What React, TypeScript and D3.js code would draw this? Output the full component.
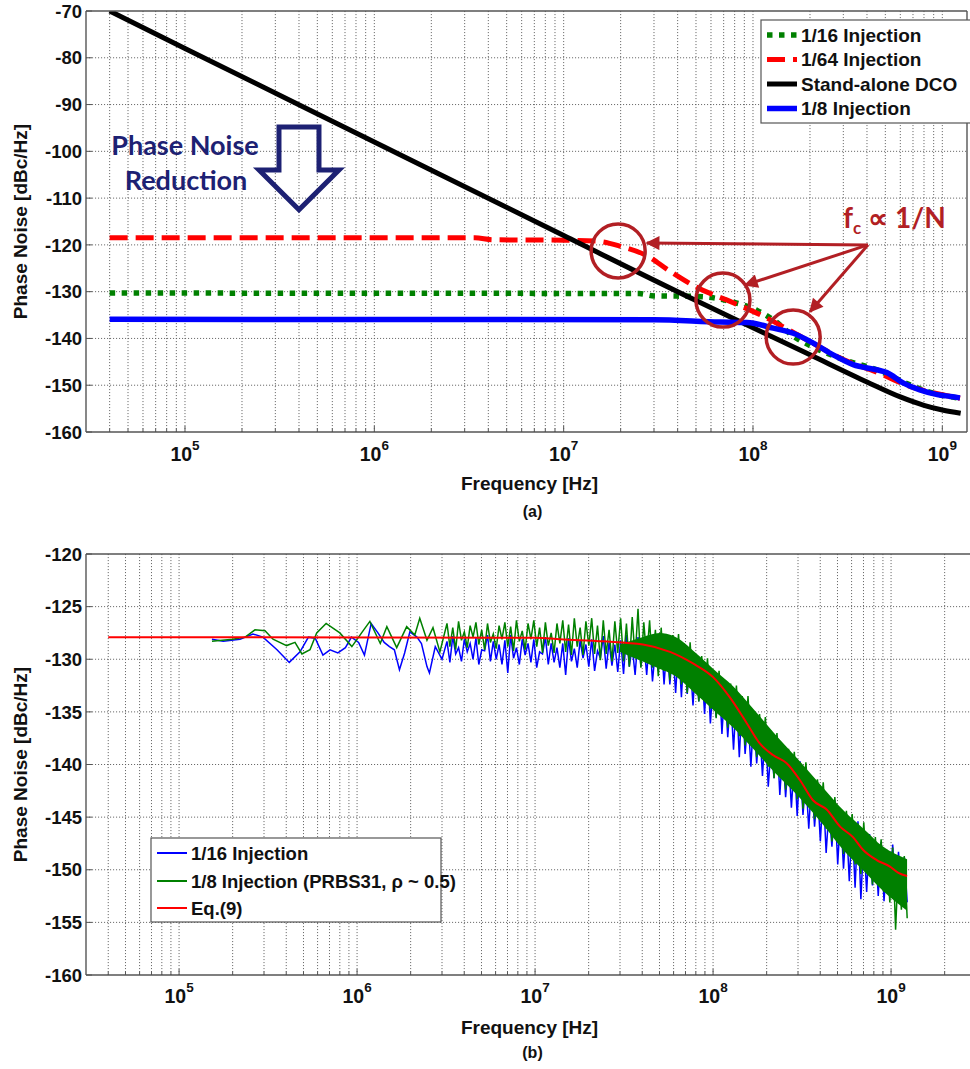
import React from 'react';
import * as d3 from 'd3';

const W = 970;
const H = 1069;
const FONT = "'Liberation Sans', Arial, Helvetica, sans-serif";
const NOTE_FONT = "Lato, 'Open Sans', sans-serif";
const NAVY = '#1d2173';
const DARK_RED = '#b21f24';
const GRID = '#5a5a5a';
const AXIS = '#555555';

// ---------- Panel (a): measured phase noise ----------
const DCO_F = [4e4, 1e5, 1e6, 1e7, 5e7, 1e8, 2e8, 4e8, 6e8, 8e8, 1e9, 1.25e9];
const DCO_DB = [-70, -78, -98, -118, -131.9, -137.7, -143.5, -149.3, -152.5, -154.3, -155.3, -156];

const INJ64_F = [4e4, 3.4e6, 4.2e6, 1e7, 1.5e7, 2e7, 2.75e7, 3.6e7, 5e7, 7.8e7, 1.1e8, 1.6e8, 2e8, 3e8, 4.5e8, 6.8e8, 8.3e8, 1.24e9];
const INJ64_DB = [-118.5, -118.5, -118.9, -119, -119.2, -120.3, -122.3, -125.5, -129, -132.3, -135, -138.5, -140.7, -144.5, -147.2, -150.3, -151.3, -152.8];

const INJ16_F = [4e4, 2.5e7, 3e7, 5e7, 7.8e7, 1.05e8, 1.35e8, 1.63e8, 2e8, 3e8, 4.5e8, 6.8e8, 8.3e8, 1.24e9];
const INJ16_DB = [-130.3, -130.4, -130.9, -131, -132.2, -134, -136.7, -139.5, -141.5, -144.5, -146.7, -150, -151.3, -152.8];

const INJ8_F = [4e4, 3e7, 6.7e7, 9.3e7, 1.28e8, 1.63e8, 2.08e8, 2.65e8, 3.38e8, 4.5e8, 5.1e8, 6.2e8, 7.6e8, 9.4e8, 1.1e9, 1.24e9];
const INJ8_DB = [-135.9, -136, -136.5, -136.6, -137.8, -138.9, -141, -143.5, -145.6, -146.7, -147.3, -149.5, -151, -152, -152.4, -152.7];

const LEGEND_A = ['1/16 Injection', '1/64 Injection', 'Stand-alone DCO', '1/8 Injection'];

// circled corner frequencies [freq, dB]
const CORNERS: [number, number][] = [[1.94e7, -121.3], [6.94e7, -131.8], [1.63e8, -139.7]];
const CALLOUT_FROM: [number, number] = [4.05e8, -120.0];
const CALLOUT_TO: [number, number][] = [[2.75e7, -119.6], [9.08e7, -128.6], [2.0e8, -134.3]];

// ---------- Panel (b): PRBS injection vs. model ----------
const G_LOW_F = [1.53e5, 2.0e5, 2.35e5, 2.67e5, 3.04e5, 3.37e5, 4.02e5, 4.48e5, 4.9e5, 5.44e5, 5.93e5, 6.7e5, 8.0e5, 9.35e5, 1.07e6, 1.18e6, 1.35e6, 1.47e6, 1.67e6, 1.9e6, 2.11e6, 2.25e6, 2.47e6, 2.67e6, 2.92e6];
const G_LOW_DB = [-128.3, -128.1, -127.9, -127.2, -127.3, -128.1, -128.7, -128.4, -129.5, -129.1, -127.5, -126.6, -127.5, -128.8, -127.4, -126.4, -128.5, -126.9, -128.9, -126.9, -127.7, -126.1, -128.2, -127.0, -129.3];

const B_LOW_F = [1.53e5, 1.77e5, 2.2e5, 2.6e5, 2.96e5, 3.55e5, 4.16e5, 4.78e5, 5.33e5, 5.82e5, 6.43e5, 7.05e5, 7.8e5, 8.6e5, 9.3e5, 1.02e6, 1.1e6, 1.2e6, 1.31e6, 1.42e6, 1.52e6, 1.62e6, 1.73e6, 1.85e6, 1.98e6, 2.17e6, 2.3e6, 2.47e6, 2.55e6, 2.75e6, 3.0e6];
const B_LOW_DB = [-128.1, -128.3, -128.1, -127.6, -127.9, -129.1, -130.3, -129.3, -127.9, -128.0, -129.6, -129.1, -129.4, -128.9, -127.9, -128.4, -129.6, -126.6, -127.5, -128.4, -128.8, -129.1, -131.0, -129.4, -127.4, -127.9, -128.5, -130.7, -131.3, -128.8, -130.0];

// densely sampled spectrum: first bin and bin spacing (decades)
const DENSE_F0 = 3.2e6;
const DENSE_STEP = 0.01626;

const G_DENSE_DB = [
  -126.6, -128.8, -127.0, -129.1, -126.4, -128.2, -127.4, -128.9, -126.8, -127.9, -126.5, -128.6, -127.2, -129.1, -126.6, -128.4, -127.6, -129.0, -126.8, -128.1,
  -126.5, -128.8, -126.9, -129.2, -126.3, -128.3, -127.3, -129.1, -126.6, -128.1, -126.3, -128.8, -127.0, -129.4, -126.5, -128.7, -127.5, -129.4, -126.6, -128.5,
  -126.3, -129.3, -126.7, -129.6, -126.1, -128.8, -127.0, -129.6, -126.4, -128.7, -126.1, -129.5, -126.8, -130.1, -126.3, -129.5, -127.2, -130.2, -126.4, -129.4,
  -126.1, -130.2, -126.6, -130.7, -126.0, -129.9, -125.2, -130.8, -126.5, -129.9, -126.3, -130.8, -127.2, -131.6, -127.0, -131.1, -128.2, -132.0, -127.7, -131.3,
  -127.6, -132.4, -128.5, -133.2, -128.4, -132.8, -129.8, -134.0, -129.7, -133.5, -129.9, -134.7, -131.1, -135.6, -131.1, -135.4, -132.6, -136.5, -132.3, -136.1,
  -132.5, -137.3, -133.5, -138.2, -133.5, -138.0, -135.2, -139.3, -135.2, -138.9, -135.5, -140.2, -136.8, -141.3, -137.0, -141.2, -138.6, -142.4, -138.5, -142.0,
  -138.8, -143.3, -139.8, -144.2, -139.8, -143.9, -141.4, -145.2, -141.4, -144.8, -141.7, -146.1, -143.0, -147.3, -143.1, -147.2, -144.6, -148.5, -144.4, -148.2,
  -144.7, -149.5, -145.6, -150.4, -145.5, -150.1, -147.0, -151.4, -146.9, -150.9, -147.1, -152.1, -148.1, -153.1, -147.9, -155.7, -149.2, -153.8, -148.7, -154.6,
];

const B_DENSE_DB = [
  -128.3, -130.3, -127.8, -129.5, -128.9, -130.2, -128.1, -129.3, -128.5, -130.0, -128.0, -130.5, -129.1, -129.2, -127.7, -130.2, -128.3, -130.0, -128.6, -130.5,
  -128.2, -131.3, -127.7, -129.9, -128.9, -130.5, -128.1, -129.6, -128.5, -130.3, -128.1, -130.8, -129.3, -129.5, -127.9, -130.5, -128.5, -130.3, -128.9, -130.8,
  -128.5, -131.5, -128.0, -130.2, -129.0, -130.8, -128.2, -129.9, -128.6, -130.7, -128.1, -131.1, -129.2, -129.9, -127.8, -130.9, -128.4, -130.6, -128.6, -131.2,
  -128.2, -131.4, -127.7, -130.7, -128.8, -131.5, -127.9, -130.7, -128.3, -131.5, -127.8, -132.1, -129.1, -131.1, -127.8, -132.4, -128.6, -132.4, -129.0, -133.2,
  -128.7, -133.6, -128.6, -133.3, -130.1, -134.4, -129.8, -134.0, -130.6, -135.2, -130.5, -136.1, -132.2, -135.5, -131.4, -137.1, -132.5, -137.4, -133.4, -138.6,
  -133.5, -139.3, -133.6, -139.0, -135.4, -140.2, -135.2, -139.9, -136.3, -141.1, -136.4, -142.1, -138.2, -141.3, -137.3, -142.9, -138.5, -143.1, -139.3, -144.1,
  -139.5, -144.9, -139.7, -144.8, -141.4, -146.1, -141.3, -145.9, -142.3, -147.3, -142.5, -148.4, -144.2, -147.8, -143.4, -149.5, -144.5, -149.9, -145.4, -151.1,
  -145.5, -151.7, -145.4, -152.8, -147.0, -152.1, -146.6, -151.5, -147.5, -152.5, -147.4, -153.0, -148.8, -151.7, -147.6, -152.8, -148.3, -152.5, -148.8, -153.1,
];

// solid core of the 1/8-injection trace at high offsets
const CORE_F = [3e7, 4e7, 5e7, 6e7, 8e7, 1e8, 1.3e8, 1.7e8, 2.2e8, 3e8, 4e8, 5.5e8, 7e8, 9e8, 1.23e9];
const CORE_HI = [-128.6, -127.9, -127.5, -127.8, -129.4, -130.9, -132.6, -134.8, -137.0, -139.5, -141.9, -144.5, -146.1, -147.8, -149.0];
const CORE_LO = [-129.3, -130.2, -130.9, -131.5, -133.3, -134.8, -136.5, -138.6, -140.7, -143.0, -145.4, -148.3, -150.1, -152.0, -153.9];

const EQ9_F = [4e4, 1e7, 1.38e7, 2.41e7, 4.04e7, 5.73e7, 7.71e7, 1e8, 1.24e8, 1.55e8, 1.83e8, 2.17e8, 2.6e8, 3.08e8, 3.64e8, 4.36e8, 5.17e8, 6.11e8, 6.95e8, 8.34e8, 9.86e8, 1.1e9, 1.23e9];
const EQ9_DB = [-127.9, -127.95, -128.1, -128.3, -128.6, -129.3, -130.4, -131.7, -133.6, -136.1, -138.0, -139.1, -139.9, -141.5, -143.4, -144.3, -145.9, -146.9, -148.1, -149.1, -149.7, -150.3, -150.6];

const LEGEND_B = ['1/16 Injection', '1/8 Injection (PRBS31, \u03c1 ~ 0.5)', 'Eq.(9)'];

const TICKS_A = [-160, -150, -140, -130, -120, -110, -100, -90, -80, -70];
const TICKS_B = [-160, -155, -150, -145, -140, -135, -130, -125, -120];
const DECADES = [5, 6, 7, 8, 9];

function logGrid(lo: number, hi: number): number[] {
  const out: number[] = [];
  for (let e = 4; e <= 9; e++) {
    for (let m = 1; m <= 9; m++) {
      const f = m * Math.pow(10, e);
      if (f > lo * 1.0001 && f < hi * 0.9999) out.push(f);
    }
  }
  return out;
}

type Panel = {
  id: string;
  x: d3.ScaleLogarithmic<number, number>;
  y: d3.ScaleLinear<number, number>;
  yTicks: number[];
  tickBase: number;
  titleBase: number;
  tagBase: number;
  tag: string;
};

function Frame({ p, children }: { p: Panel; children?: React.ReactNode }) {
  const [x0, x1] = p.x.range();
  const [y0, y1] = p.y.range(); // y0 bottom, y1 top
  const grid = logGrid(p.x.domain()[0], p.x.domain()[1]);
  const right = Math.min(x1, W + 10);
  return (
    <g>
      <defs>
        <clipPath id={`clip-${p.id}`}>
          <rect x={x0} y={y1} width={x1 - x0} height={y0 - y1} />
        </clipPath>
      </defs>
      {/* grid */}
      <g stroke={GRID} strokeWidth={0.9} strokeDasharray="1.1 1.9" fill="none">
        {grid.map((f) => (
          <line key={`gx${f}`} x1={p.x(f)} x2={p.x(f)} y1={y1} y2={y0} />
        ))}
        {p.yTicks.slice(1, -1).map((v) => (
          <line key={`gy${v}`} x1={x0} x2={right} y1={p.y(v)} y2={p.y(v)} />
        ))}
      </g>
      {/* tick marks */}
      <g stroke={AXIS} strokeWidth={1}>
        {grid.map((f) => {
          const major = Math.abs(Math.log10(f) - Math.round(Math.log10(f))) < 1e-6;
          return <line key={`tx${f}`} x1={p.x(f)} x2={p.x(f)} y1={y0} y2={y0 - (major ? 6 : 3.5)} />;
        })}
        {p.yTicks.map((v) => (
          <line key={`ty${v}`} x1={x0} x2={x0 + 6} y1={p.y(v)} y2={p.y(v)} />
        ))}
      </g>
      {children ? <g clipPath={`url(#clip-${p.id})`}>{children}</g> : null}
      {/* axes box */}
      <g stroke={AXIS} strokeWidth={1.4} fill="none">
        <line x1={x0} x2={right} y1={y0} y2={y0} />
        <line x1={x0} x2={right} y1={y1} y2={y1} />
        <line x1={x0} x2={x0} y1={y0} y2={y1} />
        {x1 <= W ? <line x1={x1} x2={x1} y1={y0} y2={y1} /> : null}
      </g>
      {/* tick labels */}
      <g fontFamily={FONT} fontWeight="bold" fill="#111">
        {p.yTicks.map((v) => (
          <text key={`ly${v}`} x={x0 - 4} y={p.y(v)} dy="0.36em" textAnchor="end" fontSize={18.5}>
            {v}
          </text>
        ))}
        {DECADES.map((e) => (
          <text key={`lx${e}`} x={p.x(Math.pow(10, e))} y={p.tickBase} textAnchor="middle" fontSize={19.5}>
            10
            <tspan dy={-11} fontSize={13.5}>
              {e}
            </tspan>
          </text>
        ))}
        <text x={(x0 + 967) / 2 + 3} y={p.titleBase} textAnchor="middle" fontSize={19}>
          Frequency [Hz]
        </text>
        <text x={(x0 + 967) / 2 + 6} y={p.tagBase} textAnchor="middle" fontSize={16}>
          {p.tag}
        </text>
        <text
          transform={`translate(27,${(y0 + y1) / 2}) rotate(-90)`}
          textAnchor="middle"
          fontSize={19}
        >
          Phase Noise [dBc/Hz]
        </text>
      </g>
    </g>
  );
}

export default function App() {
  const pa: Panel = {
    id: 'a',
    x: d3.scaleLog().domain([3e4, 1.35e9]).range([86, 967]),
    y: d3.scaleLinear().domain([-160, -70]).range([432, 11]),
    yTicks: TICKS_A,
    tickBase: 461,
    titleBase: 490,
    tagBase: 517,
    tag: '(a)',
  };
  const pb: Panel = {
    id: 'b',
    x: d3.scaleLog().domain([3e4, 3e9]).range([86, 976]),
    y: d3.scaleLinear().domain([-160, -120]).range([975, 554]),
    yTicks: TICKS_B,
    tickBase: 1003,
    titleBase: 1034,
    tagBase: 1058,
    tag: '(b)',
  };

  const lineA = (fs: number[], vs: number[]) =>
    d3
      .line<number>()
      .x((_, i) => pa.x(fs[i]))
      .y((v) => pa.y(v))
      .curve(d3.curveMonotoneX)(vs) || '';

  const lineB = (fs: number[], vs: number[], curve = d3.curveLinear) =>
    d3
      .line<number>()
      .x((_, i) => pb.x(fs[i]))
      .y((v) => pb.y(v))
      .curve(curve)(vs) || '';

  const denseF = G_DENSE_DB.map((_, i) => DENSE_F0 * Math.pow(10, i * DENSE_STEP));
  const greenPath = lineB([...G_LOW_F, ...denseF], [...G_LOW_DB, ...G_DENSE_DB]);
  const bluePath = lineB([...B_LOW_F, ...denseF], [...B_LOW_DB, ...B_DENSE_DB]);
  const corePath =
    d3
      .area<number>()
      .x((_, i) => pb.x(CORE_F[i]))
      .y0((_, i) => pb.y(CORE_LO[i]))
      .y1((v) => pb.y(v))
      .curve(d3.curveMonotoneX)(CORE_HI) || '';
  const eqPath = lineB(EQ9_F, EQ9_DB, d3.curveMonotoneX);

  // annotation geometry in data space
  const arrowX = pa.x(4e5);
  const arrowTop = pa.y(-94.8);
  const arrowNeck = pa.y(-104);
  const arrowTip = pa.y(-112.5);
  const shaft = 20;
  const head = 40;
  const bigArrow = [
    [arrowX - shaft, arrowTop],
    [arrowX + shaft, arrowTop],
    [arrowX + shaft, arrowNeck],
    [arrowX + head, arrowNeck],
    [arrowX, arrowTip],
    [arrowX - head, arrowNeck],
    [arrowX - shaft, arrowNeck],
  ]
    .map((p) => p.join(','))
    .join(' ');

  const legA = { x: 761, y: 20, w: 212, h: 103 };
  const legB = { x: 151, y: 838, w: 290, h: 84 };
  const rowsA = [35, 59.5, 84, 108.5];
  const rowsB = [853, 881, 908];

  return (
    <svg
      width={W}
      height={H}
      viewBox={`0 0 ${W} ${H}`}
      style={{ position: 'absolute', left: 0, top: 0, background: '#fff' }}
    >
      <defs>
        <marker
          id="callout-head"
          viewBox="0 0 10 10"
          refX="9"
          refY="5"
          markerWidth="17"
          markerHeight="14"
          markerUnits="userSpaceOnUse"
          orient="auto"
        >
          <path d="M0,0 L10,5 L0,10 z" fill={DARK_RED} />
        </marker>
      </defs>
      <rect x={0} y={0} width={W} height={H} fill="#fff" />

      {/* ---------- panel (a) ---------- */}
      <Frame p={pa}>
        <path d={lineA(INJ16_F, INJ16_DB)} fill="none" stroke="#008000" strokeWidth={5.5} strokeDasharray="5.5 6.5" />
        <path d={lineA(INJ64_F, INJ64_DB)} fill="none" stroke="#ff0000" strokeWidth={5} strokeDasharray="18 8" />
        <path d={lineA(DCO_F, DCO_DB)} fill="none" stroke="#000" strokeWidth={5} />
        <path d={lineA(INJ8_F, INJ8_DB)} fill="none" stroke="#0000ff" strokeWidth={5.5} />
      </Frame>

      {/* legend (a) */}
      <g>
        <rect x={legA.x} y={legA.y} width={legA.w} height={legA.h} fill="#fff" stroke={AXIS} strokeWidth={1.2} />
        {[
          { c: '#008000', d: '5.5 6.5', w: 5.5 },
          { c: '#ff0000', d: '18 8', w: 5 },
          { c: '#000', d: undefined, w: 5 },
          { c: '#0000ff', d: undefined, w: 5.5 },
        ].map((s, i) => (
          <g key={`la${i}`}>
            <line x1={767} x2={797} y1={rowsA[i]} y2={rowsA[i]} stroke={s.c} strokeWidth={s.w} strokeDasharray={s.d} />
            <text x={801} y={rowsA[i]} dy="0.36em" fontFamily={FONT} fontWeight="bold" fontSize={19} fill="#111">
              {LEGEND_A[i]}
            </text>
          </g>
        ))}
      </g>

      {/* phase noise reduction note */}
      <g fontFamily={NOTE_FONT} fontWeight="bold" fill={NAVY} fontSize={27} textAnchor="middle">
        <text x={pa.x(1e5)} y={pa.y(-100.8)}>Phase Noise</text>
        <text x={pa.x(1e5) + 1} y={pa.y(-108.3)}>Reduction</text>
      </g>
      <polygon points={bigArrow} fill="none" stroke={NAVY} strokeWidth={5} strokeLinejoin="miter" />

      {/* corner-frequency callouts */}
      <g fill="none" stroke={DARK_RED} strokeWidth={3.5}>
        {CORNERS.map(([f, v], i) => (
          <circle key={`c${i}`} cx={pa.x(f)} cy={pa.y(v)} r={27} />
        ))}
      </g>
      <g stroke={DARK_RED} strokeWidth={3}>
        {CALLOUT_TO.map(([f, v], i) => (
          <line
            key={`a${i}`}
            x1={pa.x(CALLOUT_FROM[0])}
            y1={pa.y(CALLOUT_FROM[1])}
            x2={pa.x(f)}
            y2={pa.y(v)}
            markerEnd="url(#callout-head)"
          />
        ))}
      </g>
      <text x={pa.x(2.99e8)} y={pa.y(-116.4)} fontFamily={NOTE_FONT} fontWeight="bold" fontSize={28} fill={DARK_RED}>
        f
        <tspan dy={6} fontSize={17}>
          c
        </tspan>
        <tspan dy={-6}> {'\u221d'} 1/N</tspan>
      </text>

      {/* ---------- panel (b) ---------- */}
      <Frame p={pb}>
        <path d={bluePath} fill="none" stroke="#0000ff" strokeWidth={1.5} />
        <path d={corePath} fill="#008000" stroke="none" />
        <path d={greenPath} fill="none" stroke="#008000" strokeWidth={1.5} />
        <path d={eqPath} fill="none" stroke="#ff0000" strokeWidth={2} />
      </Frame>

      {/* legend (b) */}
      <g>
        <rect x={legB.x} y={legB.y} width={legB.w} height={legB.h} fill="#fff" stroke={AXIS} strokeWidth={1.2} />
        {['#0000ff', '#008000', '#ff0000'].map((c, i) => (
          <g key={`lb${i}`}>
            <line x1={157} x2={187} y1={rowsB[i]} y2={rowsB[i]} stroke={c} strokeWidth={2} />
            <text x={191} y={rowsB[i]} dy="0.36em" fontFamily={FONT} fontWeight="bold" fontSize={18.5} fill="#111">
              {LEGEND_B[i]}
            </text>
          </g>
        ))}
      </g>
    </svg>
  );
}
